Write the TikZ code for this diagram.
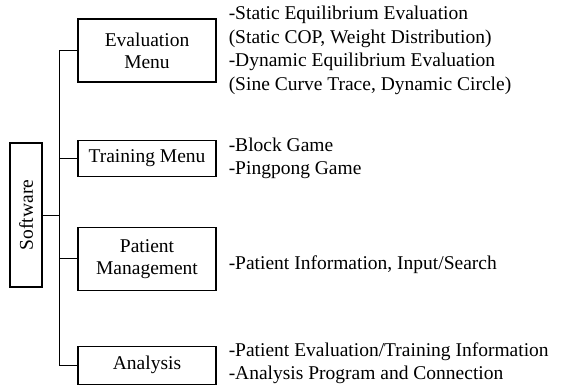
\documentclass[tikz,border=0pt]{standalone}
\usepackage{fontspec}
\setmainfont{Liberation Serif}
\usetikzlibrary{positioning}

\begin{document}
\begin{tikzpicture}[x=1pt, y=-1pt,
      box/.style={rectangle, draw, line width=1.1pt, minimum width=138pt,
        font=\fontsize{19.5}{22}\selectfont, align=center, inner sep=2pt},
      desc/.style={anchor=west, align=left, inner sep=0pt,
        font=\fontsize{19.5}{23.5}\selectfont}]
      \useasboundingbox (0,0) rectangle (563,389);
      % menu boxes, top to bottom
      \node[box, minimum height=63pt] (eval) at (147,50.5) {Evaluation\\Menu};
      \node[box, minimum height=36pt, below=57pt of eval] (train) {Training Menu};
      \node[box, minimum height=63pt, below=50pt of train] (patient) {Patient\\Management};
      \node[box, minimum height=38pt, below=55pt of patient] (ana) {Analysis};
      \node[box, rotate=90, minimum width=144pt, minimum height=32pt] (soft) at (26,215) {Software};
      % items of each menu
      \node[desc, right=12pt of eval] (evalitems) {-Static Equilibrium Evaluation\\(Static COP, Weight Distribution)\\-Dynamic Equilibrium Evaluation\\(Sine Curve Trace, Dynamic Circle)};
      \node[desc, right=12pt of train] (trainitems) {-Block Game\\-Pingpong Game};
      \node[desc, right=12pt of patient, yshift=-6pt] (patientitems) {-Patient Information, Input/Search};
      \node[desc, right=12pt of ana, yshift=2pt] (anaitems) {-Patient Evaluation/Training Information\\-Analysis Program and Connection};
      % tree lines
      \coordinate (trunk) at (59,0);
      \draw[line width=1pt] (eval.west) -- (eval.west -| trunk) -- (ana.west -| trunk) -- (ana.west);
      \draw[line width=1pt] (train.west) -- (train.west -| trunk);
      \draw[line width=1pt] (patient.west) -- (patient.west -| trunk);
      \draw[line width=1pt] (soft.south) -- (soft.south -| trunk);
    \end{tikzpicture}
\end{document}
